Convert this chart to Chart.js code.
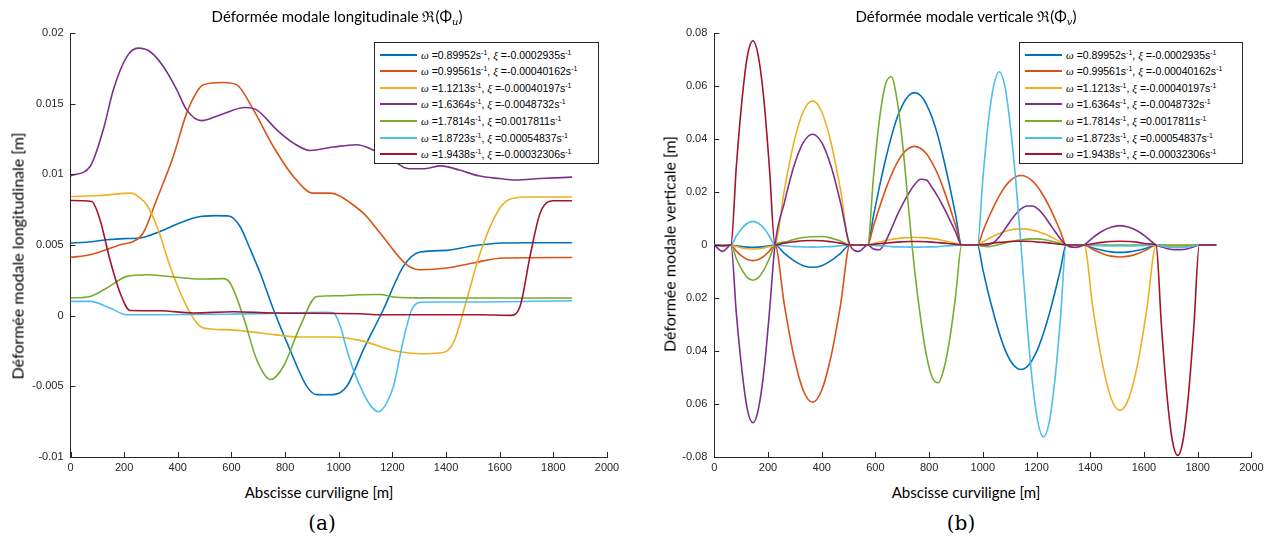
<!DOCTYPE html>
<html>
<head>
<meta charset="utf-8">
<script src="https://cdn.jsdelivr.net/npm/chart.js@4.4.1/dist/chart.umd.min.js"></script>
<style>
  body { margin: 0; width: 1274px; height: 550px; position: relative; overflow: hidden; background: #fff; }
  canvas { position: absolute; top: 0; }
  .txt { position: absolute; white-space: nowrap; transform: translate(-50%, -50%); font-family: Lato, sans-serif; font-size: 15px; color: #000; }
  .ylab { transform: translate(-50%, -50%) rotate(-90deg); font-size: 16px; }
  .cap { font-family: "DejaVu Serif", serif; font-size: 20px; }
  .txt sub { font-size: 10px; vertical-align: -3px; line-height: 0; font-family: "DejaVu Serif", serif; }
  .legend { position: absolute; border: 1px solid #262626; background: #fff; box-sizing: border-box; font-family: "Liberation Sans", Arial, sans-serif; font-size: 10.5px; color: #000; }
  .row { position: absolute; left: 0; height: 14px; display: flex; align-items: center; white-space: nowrap; }
  .swatch { display: inline-block; width: 37px; height: 2px; margin-left: 5px; margin-right: 4px; }
  .gr { font-family: "Liberation Serif", serif; font-style: italic; font-size: 11px; }
  .legend sup { font-size: 7px; vertical-align: 4px; line-height: 0; }
</style>
</head>
<body>
<canvas id="chartU" width="637" height="480" style="left:0"></canvas>
<canvas id="chartV" width="637" height="480" style="left:637px"></canvas>

<div class="txt" style="left:337px; top:16px">Déformée modale longitudinale ℜ(Φ<sub><i>u</i></sub>)</div>
<div class="txt" style="left:966px; top:16px">Déformée modale verticale ℜ(Φ<sub><i>v</i></sub>)</div>
<div class="txt" style="left:319px; top:492px">Abscisse curviligne [m]</div>
<div class="txt" style="left:966px; top:492px">Abscisse curviligne [m]</div>
<div class="txt ylab" style="left:17px; top:256px">Déformée modale longitudinale [m]</div>
<div class="txt ylab" style="left:669px; top:244px">Déformée modale verticale [m]</div>
<div class="txt cap" style="left:322px; top:523px">(a)</div>
<div class="txt cap" style="left:961px; top:523px">(b)</div>

<div class="legend" id="legU" style="left:374px; top:42px; width:225px; height:122px"></div>
<div class="legend" id="legV" style="left:1019px; top:42px; width:224px; height:122px"></div>

<script>
// mode labels
const omegas = ['0.89952', '0.99561', '1.1213', '1.6364', '1.7814', '1.8723', '1.9438'];
const xis = ['-0.0002935', '-0.00040162', '-0.00040197', '-0.0048732', '0.0017811', '0.00054837', '-0.00032306'];
const colors = ['#0072BD', '#D95319', '#EDB120', '#7E2F8E', '#77AC30', '#4DBEEE', '#A2142F'];

// axis tick labels (bottom to top)
const xTickLabels = ['0', '200', '400', '600', '800', '1000', '1200', '1400', '1600', '1800', '2000'];
const yTickLabelsU = ['-0.01', '-0.005', '0', '0.005', '0.01', '0.015', '0.02'];
const yTickLabelsV = ['-0.08', '0.06', '0.04', '0.02', '0', '0.02', '0.04', '0.06', '0.08'];

// (a) longitudinal shapes, one x list per curve
const uBlueX = [0, 60, 135, 200, 259, 334, 400, 470, 540, 590, 632, 670, 707, 757, 818, 881, 918, 950, 980, 1030, 1092, 1166, 1241, 1303, 1403, 1502, 1614, 1700, 1870];
const uBlueY = [0.00514, 0.0052, 0.00537, 0.00545, 0.00549, 0.00596, 0.0065, 0.00697, 0.00708, 0.00705, 0.00631, 0.0047, 0.00302, 0.00042, -0.0024, -0.005, -0.00559, -0.0056, -0.00559, -0.005, -0.0024, 0.00042, 0.00349, 0.0045, 0.00462, 0.00495, 0.00514, 0.00516, 0.00516];
const uOrangeX = [0, 73, 130, 185, 234, 271, 321, 383, 433, 470, 495, 570, 620, 682, 756, 831, 905, 968, 1000, 1042, 1100, 1154, 1254, 1303, 1403, 1502, 1614, 1870];
const uOrangeY = [0.00413, 0.00431, 0.00465, 0.00502, 0.00525, 0.00585, 0.0082, 0.01126, 0.01433, 0.0158, 0.01633, 0.0165, 0.01633, 0.01456, 0.01197, 0.00985, 0.00867, 0.00867, 0.0085, 0.008, 0.0071, 0.00585, 0.0036, 0.00325, 0.00337, 0.00373, 0.00408, 0.00412];
const uYellowX = [0, 110, 228, 259, 284, 327, 371, 433, 495, 582, 657, 756, 856, 980, 1079, 1216, 1303, 1378, 1427, 1477, 1527, 1589, 1633, 1700, 1870];
const uYellowY = [0.00843, 0.0085, 0.00867, 0.00832, 0.00785, 0.00608, 0.00349, 0.00066, -0.00087, -0.00099, -0.00111, -0.00134, -0.00151, -0.00151, -0.00175, -0.00252, -0.00269, -0.00264, -0.00193, 0.00113, 0.00443, 0.00726, 0.0082, 0.0084, 0.0084];
const uPurpleX = [0, 73, 122, 160, 210, 253, 296, 346, 396, 433, 489, 557, 651, 694, 769, 831, 893, 980, 1067, 1120, 1200, 1260, 1320, 1380, 1450, 1520, 1600, 1660, 1750, 1870];
const uPurpleY = [0.0099, 0.01056, 0.01315, 0.016, 0.01833, 0.01893, 0.01869, 0.01763, 0.016, 0.01456, 0.0138, 0.0142, 0.01473, 0.01456, 0.01315, 0.01221, 0.01169, 0.01193, 0.01209, 0.0118, 0.011, 0.0104, 0.0104, 0.0106, 0.0103, 0.0099, 0.0097, 0.0096, 0.0097, 0.0098];
const uGreenX = [0, 73, 135, 210, 284, 383, 483, 570, 595, 644, 694, 746, 794, 856, 918, 993, 1079, 1150, 1216, 1300, 1465, 1870];
const uGreenY = [0.00125, 0.00136, 0.00196, 0.00278, 0.0029, 0.00274, 0.00259, 0.00262, 0.00231, -0.00005, -0.00311, -0.00452, -0.00358, -0.00076, 0.00136, 0.00141, 0.00148, 0.0015, 0.0013, 0.00126, 0.00125, 0.00125];
const uCyanX = [0, 73, 147, 210, 334, 582, 955, 980, 1005, 1030, 1054, 1092, 1120, 1148, 1175, 1204, 1241, 1272, 1303, 1350, 1465, 1870];
const uCyanY = [0.00101, 0.00101, 0.00054, 0.00007, 0.00007, 0.0001, 0.00023, 0.0002, -0.0007, -0.0024, -0.0038, -0.0055, -0.0064, -0.0068, -0.0063, -0.005, -0.0017, 0.00042, 0.00094, 0.00097, 0.00097, 0.00106];
const uRedX = [0, 79, 110, 147, 185, 222, 334, 458, 607, 756, 1079, 1154, 1340, 1527, 1640, 1676, 1713, 1751, 1800, 1870];
const uRedY = [0.00815, 0.00808, 0.00679, 0.00396, 0.0016, 0.00037, 0.00035, 0.00019, 0.00028, 0.00019, 0.00014, 0.00007, 0.00007, 0.00007, 0.00002, 0.00066, 0.0042, 0.00726, 0.00813, 0.00813];

// (b) vertical shapes, shared abscissa
const xV = [0, 31, 62,
  82, 103, 123, 144, 164, 185, 205, 226,
  261, 296, 331, 366, 400, 435, 470, 505,
  538, 571,
  593, 615, 637, 659, 680, 702, 724, 746, 768, 790, 812, 834, 855, 877, 899, 921,
  950, 980,
  1000, 1020, 1041, 1061, 1081, 1101, 1122, 1142, 1163, 1184, 1205, 1226, 1247, 1268, 1289, 1310,
  1343, 1377,
  1410, 1444, 1477, 1511, 1544, 1578, 1611, 1645,
  1665, 1685, 1705, 1726, 1746, 1766, 1786, 1806,
  1837, 1869];
const vBlue = [0, 0, 0,
  -0.0003, -0.0006, -0.0008, -0.0009, -0.0008, -0.0006, -0.0003, 0,
  -0.0032, -0.0059, -0.0078, -0.0084, -0.0078, -0.0059, -0.0032, 0,
  0, 0,
  0.0112, 0.022, 0.032, 0.0407, 0.0478, 0.0531, 0.0564, 0.0575, 0.0564, 0.0531, 0.0478, 0.0407, 0.032, 0.022, 0.0112, 0,
  0, 0,
  -0.0092, -0.018, -0.0261, -0.0332, -0.0391, -0.0434, -0.0461, -0.047, -0.0461, -0.0434, -0.0391, -0.0332, -0.0261, -0.018, -0.0092, 0,
  0, 0,
  -0.0011, -0.002, -0.0026, -0.0028, -0.0026, -0.002, -0.0011, 0,
  -0.0002, -0.0004, -0.0005, -0.0005, -0.0005, -0.0004, -0.0002, 0,
  0, 0];
const vOrange = [0, -0.0004, 0,
  -0.0023, -0.0042, -0.0055, -0.0059, -0.0055, -0.0042, -0.0023, 0,
  -0.0227, -0.0419, -0.0548, -0.0593, -0.0548, -0.0419, -0.0227, 0,
  0, 0,
  0.0073, 0.0142, 0.0207, 0.0263, 0.0309, 0.0344, 0.0365, 0.0372, 0.0365, 0.0344, 0.0309, 0.0263, 0.0207, 0.0142, 0.0073, 0,
  0, 0,
  0.0051, 0.01, 0.0146, 0.0185, 0.0218, 0.0242, 0.0257, 0.0262, 0.0257, 0.0242, 0.0218, 0.0185, 0.0146, 0.01, 0.0051, 0,
  0, 0,
  -0.0017, -0.0032, -0.0042, -0.0045, -0.0042, -0.0032, -0.0017, 0,
  -0.0001, -0.0002, -0.0003, -0.0003, -0.0003, -0.0002, -0.0001, 0,
  0, 0];
const vYellow = [0, 0, 0,
  -0.0006, -0.0011, -0.0014, -0.0015, -0.0014, -0.0011, -0.0006, 0,
  0.0208, 0.0385, 0.0503, 0.0544, 0.0503, 0.0385, 0.0208, 0,
  0, 0,
  0.0006, 0.0011, 0.0016, 0.0021, 0.0024, 0.0027, 0.0028, 0.0029, 0.0028, 0.0027, 0.0024, 0.0021, 0.0016, 0.0011, 0.0006, 0,
  0, 0,
  0.0012, 0.0023, 0.0034, 0.0043, 0.0051, 0.0056, 0.006, 0.0061, 0.006, 0.0056, 0.0051, 0.0043, 0.0034, 0.0023, 0.0012, 0,
  0, 0,
  -0.0239, -0.0441, -0.0577, -0.0624, -0.0577, -0.0441, -0.0239, 0,
  -0.0002, -0.0004, -0.0005, -0.0005, -0.0005, -0.0004, -0.0002, 0,
  0, 0];
const vPurple = [0, -0.0024, 0,
  -0.0257, -0.0474, -0.062, -0.0671, -0.062, -0.0474, -0.0257, 0,
  0.016, 0.0296, 0.0386, 0.0418, 0.0386, 0.0296, 0.016, 0,
  -0.0024, 0,
  -0.0015, -0.0018, 0.0012, 0.006, 0.011, 0.0155, 0.0195, 0.0228, 0.0248, 0.0245, 0.0215, 0.018, 0.014, 0.0095, 0.0048, 0,
  0, 0,
  -0.0002, 0, 0.001, 0.003, 0.0058, 0.0088, 0.0116, 0.0136, 0.0147, 0.0147, 0.0136, 0.0113, 0.0083, 0.0052, 0.0023, 0,
  -0.0009, 0,
  0.0028, 0.0052, 0.0067, 0.0073, 0.0067, 0.0052, 0.0028, 0,
  -0.0007, -0.0013, -0.0017, -0.0018, -0.0017, -0.0013, -0.0007, 0,
  0, 0];
const vGreen = [0, 0, 0,
  -0.0051, -0.0094, -0.0123, -0.0133, -0.0123, -0.0094, -0.0051, 0,
  0.0011, 0.0021, 0.0028, 0.0031, 0.0032, 0.0026, 0.0015, 0,
  0, 0,
  0.026, 0.0474, 0.0605, 0.0635, 0.0551, 0.0373, 0.0133, -0.0096, -0.0275, -0.0417, -0.0501, -0.052, -0.0467, -0.0352, -0.0189, 0,
  0, 0,
  -0.0005, -0.0006, -0.0003, 0.0002, 0.0007, 0.0012, 0.0016, 0.0019, 0.0022, 0.0023, 0.0023, 0.0021, 0.0017, 0.0011, 0.0005, 0,
  0, 0,
  0, 0, 0, 0, 0, 0, 0, 0,
  0, 0, 0, 0, 0, 0, 0, 0,
  0, 0];
const vCyan = [0, 0, 0,
  0.0034, 0.0063, 0.0082, 0.0089, 0.0082, 0.0063, 0.0034, 0,
  -0.0003, -0.0006, -0.0007, -0.0008, -0.0007, -0.0006, -0.0003, 0,
  0, 0,
  -0.0002, -0.0003, -0.0004, -0.0006, -0.0007, -0.0007, -0.0008, -0.0008, -0.0008, -0.0007, -0.0007, -0.0006, -0.0004, -0.0003, -0.0002, 0,
  0, 0,
  0.025, 0.0462, 0.0604, 0.0654, 0.0604, 0.0462, 0.025, 0, -0.0277, -0.0512, -0.0669, -0.0724, -0.0669, -0.0512, -0.0277, 0,
  0, 0,
  -0.0002, -0.0003, -0.0004, -0.0004, -0.0004, -0.0003, -0.0002, 0,
  -0.0004, -0.0007, -0.0009, -0.001, -0.0009, -0.0007, -0.0004, 0,
  0, 0];
const vRed = [0, -0.0003, 0,
  0.0295, 0.0545, 0.0712, 0.0771, 0.0712, 0.0545, 0.0295, 0,
  0.0007, 0.0012, 0.0016, 0.0017, 0.0016, 0.0012, 0.0007, 0,
  0, 0,
  0.0003, 0.0005, 0.0007, 0.0009, 0.0011, 0.0012, 0.0013, 0.0013, 0.0013, 0.0012, 0.0011, 0.0009, 0.0007, 0.0005, 0.0003, 0,
  0, 0,
  0.0003, 0.0005, 0.0008, 0.001, 0.0011, 0.0013, 0.0014, 0.0014, 0.0014, 0.0013, 0.0011, 0.001, 0.0008, 0.0005, 0.0003, 0,
  0, 0,
  0.0005, 0.001, 0.0013, 0.0014, 0.0013, 0.001, 0.0005, 0,
  -0.0304, -0.0561, -0.0734, -0.0794, -0.0734, -0.0561, -0.0304, 0,
  0, 0];

Chart.defaults.font.family = '"Liberation Sans", Arial, sans-serif';

function pts(xs, ys) {
  return xs.map((x, i) => ({x: x, y: ys[i]}));
}

// MATLAB style: ticks drawn inside the axes
const innerTicks = {
  id: 'innerTicks',
  afterDraw(chart) {
    const {ctx, chartArea, scales} = chart;
    ctx.save();
    ctx.strokeStyle = '#262626';
    ctx.lineWidth = 1;
    scales.x.ticks.forEach((t, i) => {
      const px = Math.round(scales.x.getPixelForTick(i)) + 0.5;
      ctx.beginPath();
      ctx.moveTo(px, chartArea.bottom);
      ctx.lineTo(px, chartArea.bottom - 5);
      ctx.stroke();
    });
    scales.y.ticks.forEach((t, i) => {
      const py = Math.round(scales.y.getPixelForTick(i)) + 0.5;
      ctx.beginPath();
      ctx.moveTo(chartArea.left, py);
      ctx.lineTo(chartArea.left + 5, py);
      ctx.stroke();
    });
    ctx.restore();
  }
};

function makeChart(id, sets, yMin, yMax, yStep, yLabels, yWidth, padRight) {
  const datasets = sets.map((d, i) => ({
    data: d,
    borderColor: colors[i],
    borderWidth: 1.6,
    pointRadius: 0,
    fill: false,
    cubicInterpolationMode: 'monotone',
    order: sets.length - i
  }));
  return new Chart(document.getElementById(id), {
    type: 'line',
    data: {datasets: datasets},
    options: {
      responsive: false,
      animation: false,
      layout: {padding: {top: 33, right: padRight, left: 0, bottom: 0}},
      plugins: {legend: {display: false}, tooltip: {enabled: false}},
      scales: {
        x: {
          type: 'linear', min: 0, max: 2000,
          afterFit: (s) => { s.height = 23; },
          grid: {drawOnChartArea: false, drawTicks: false},
          border: {color: '#262626', width: 1},
          ticks: {stepSize: 200, autoSkip: false, maxRotation: 0, padding: 4, color: '#262626', font: {size: 11},
            callback: (v, i) => xTickLabels[i]}
        },
        y: {
          type: 'linear', min: yMin, max: yMax,
          afterFit: (s) => { s.width = yWidth; },
          grid: {drawOnChartArea: false, drawTicks: false},
          border: {color: '#262626', width: 1},
          ticks: {stepSize: yStep, autoSkip: false, padding: 7, color: '#262626', font: {size: 11},
            callback: (v, i) => yLabels[i]}
        }
      }
    },
    plugins: [innerTicks]
  });
}

makeChart('chartU', [
  pts(uBlueX, uBlueY), pts(uOrangeX, uOrangeY), pts(uYellowX, uYellowY), pts(uPurpleX, uPurpleY),
  pts(uGreenX, uGreenY), pts(uCyanX, uCyanY), pts(uRedX, uRedY)
], -0.01, 0.02, 0.005, yTickLabelsU, 70.5, 30);

makeChart('chartV', [
  pts(xV, vBlue), pts(xV, vOrange), pts(xV, vYellow), pts(xV, vPurple),
  pts(xV, vGreen), pts(xV, vCyan), pts(xV, vRed)
], -0.08, 0.08, 0.02, yTickLabelsV, 77.3, 22.6);

function buildLegend(id) {
  const box = document.getElementById(id);
  omegas.forEach((w, i) => {
    const row = document.createElement('div');
    row.className = 'row';
    row.style.top = (4.5 + i * 16.6) + 'px';
    row.innerHTML = '<span class="swatch" style="background:' + colors[i] + '"></span>' +
      '<span><span class="gr">ω</span> =' + w + 's<sup>-1</sup>, <span class="gr">ξ</span> =' + xis[i] + 's<sup>-1</sup></span>';
    box.appendChild(row);
  });
}
buildLegend('legU');
buildLegend('legV');
</script>
</body>
</html>
